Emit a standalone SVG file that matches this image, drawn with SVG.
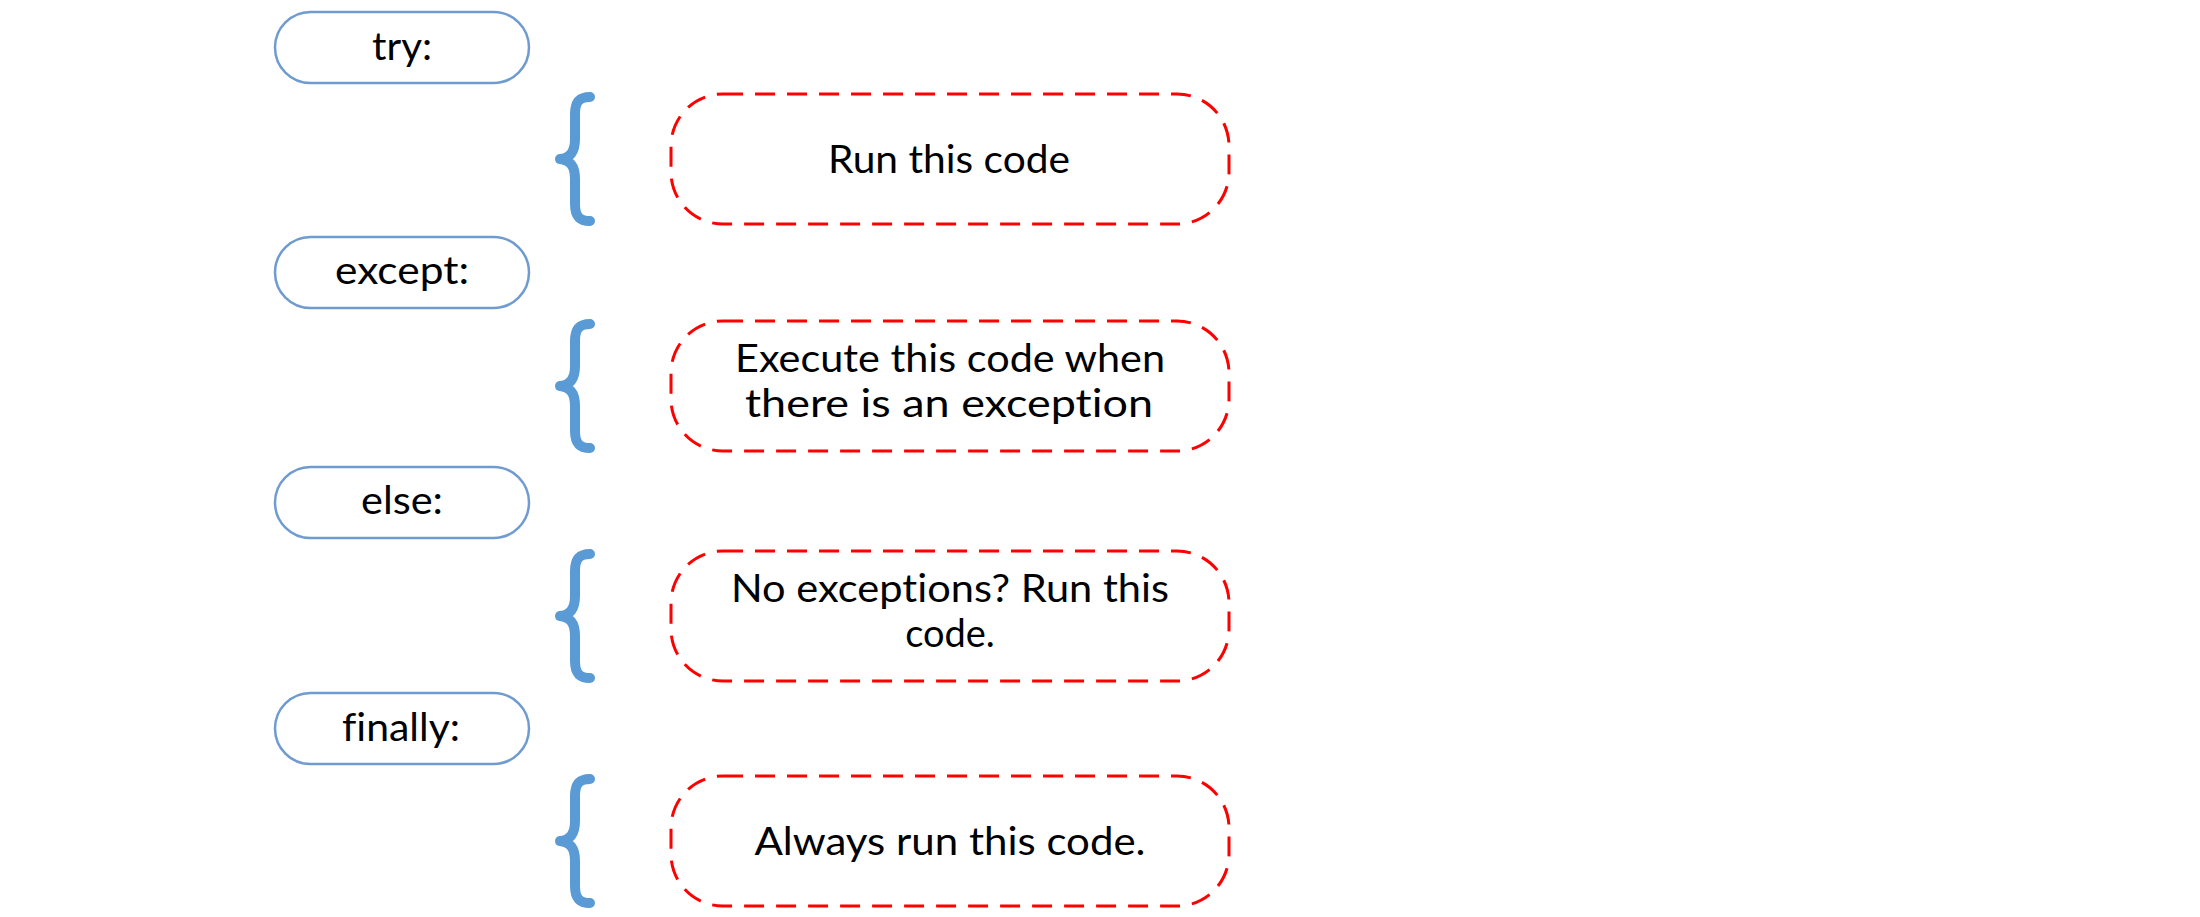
<svg xmlns="http://www.w3.org/2000/svg" width="2200" height="917" viewBox="0 0 2200 917">
<style>
.pill{fill:#ffffff;stroke:#6f9bd0;stroke-width:2.5}
.blk{fill:none;stroke:#ff0000;stroke-width:3;stroke-dasharray:20 12}
.brace{fill:none;stroke:#5b9bd5;stroke-width:10;stroke-linecap:round;stroke-linejoin:round}
text{font-family:Lato,"Open Sans","Liberation Sans",sans-serif;font-size:38px;fill:#000000;text-anchor:middle;font-variant-ligatures:none}
</style>
<defs>
<path id="br" class="brace" d="M590,3 C579,3 575,8 575,20 L575,45 C575,58 570,64 560,65 C570,66 575,72 575,85 L575,110 C575,122 579,127 590,127"/>
</defs>
<rect width="2200" height="917" fill="#ffffff"/>
<g id="try">
<rect class="pill" x="275" y="12" width="254" height="71" rx="35.5"/>
<text x="402" y="60" textLength="60" lengthAdjust="spacingAndGlyphs">try:</text>
</g>
<g id="except">
<rect class="pill" x="275" y="237" width="254" height="71" rx="35.5"/>
<text x="402" y="284" textLength="134" lengthAdjust="spacingAndGlyphs">except:</text>
</g>
<g id="else">
<rect class="pill" x="275" y="467" width="254" height="71" rx="35.5"/>
<text x="402" y="514" textLength="82" lengthAdjust="spacingAndGlyphs">else:</text>
</g>
<g id="finally">
<rect class="pill" x="275" y="693" width="254" height="71" rx="35.5"/>
<text x="401" y="741" textLength="118" lengthAdjust="spacingAndGlyphs">finally:</text>
</g>
<g id="connectors">
<use href="#br" y="94"/>
<use href="#br" y="321"/>
<use href="#br" y="551"/>
<use href="#br" y="776"/>
</g>
<g id="try-body">
<rect class="blk" x="671" y="94" width="558" height="130" rx="52"/>
<text x="949" y="173" textLength="242" lengthAdjust="spacingAndGlyphs">Run this code</text>
</g>
<g id="except-body">
<rect class="blk" x="671" y="321" width="558" height="130" rx="52"/>
<text x="950" y="372" textLength="430" lengthAdjust="spacingAndGlyphs">Execute this code when</text>
<text x="949" y="417" textLength="408" lengthAdjust="spacingAndGlyphs">there is an exception</text>
</g>
<g id="else-body">
<rect class="blk" x="671" y="551" width="558" height="130" rx="52"/>
<text x="950" y="602" textLength="438" lengthAdjust="spacingAndGlyphs">No exceptions? Run this</text>
<text x="950" y="647">code.</text>
</g>
<g id="finally-body">
<rect class="blk" x="671" y="776" width="558" height="130" rx="52"/>
<text x="950" y="855" textLength="391" lengthAdjust="spacingAndGlyphs">Always run this code.</text>
</g>
</svg>
